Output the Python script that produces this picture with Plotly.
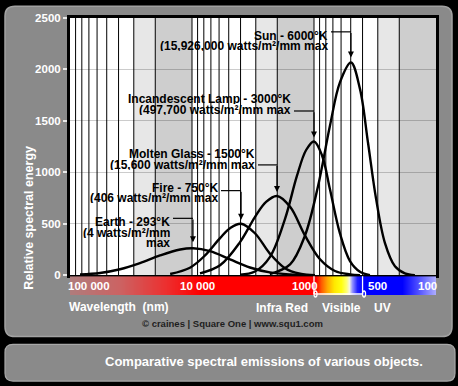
import numpy as np
import plotly.graph_objects as go

W, H = 458, 386
F = "Liberation Sans, Arial, sans-serif"

# ---- data: wavelength (nm) vs relative spectral energy ----
earth_wl  = [82800, 56700, 38900, 26700, 18300, 12500, 9820, 7110, 4880, 3350, 2300, 1570, 1080]
earth_val = [7, 22, 58, 118, 192, 250, 262, 234, 154, 75, 27, 7, 0]
fire_wl   = [15100, 10400, 7820, 5890, 4880, 3960, 3050, 2300, 1730, 1300, 982]
fire_val  = [12, 73, 192, 361, 457, 500, 408, 210, 68, 14, 0]
glass_wl  = [8600, 5890, 4040, 3050, 2470, 2010, 1570, 1190, 893, 673, 507, 420]
glass_val = [18, 97, 322, 565, 713, 770, 665, 390, 155, 41, 8, 0]
lamp_wl   = [4040, 3050, 2300, 1730, 1380, 1160, 1000, 859, 740, 612, 507, 420, 348]
lamp_val  = [5, 36, 176, 545, 965, 1217, 1300, 1164, 835, 404, 138, 34, 0]
sun_wl    = [2300, 1570, 1190, 927, 740, 612, 498, 420, 361, 310, 262, 217, 180, 149]
sun_val   = [11, 105, 380, 865, 1453, 1877, 2067, 1811, 1290, 744, 312, 87, 18, 0]

label_titles = ["Sun - 6000°K", "Incandescent Lamp - 3000°K", "Molten Glass - 1500°K",
                "Fire - 750°K", "Earth - 293°K"]
label_maxes = [["(15,926,000 watts/m²/mm max"], ["(497,700 watts/m²/mm max"],
               ["(15,600 watts/m²/mm max"], ["(406 watts/m²/mm max"],
               ["(4 watts/m²/mm", "max"]]

y_ticks = [0, 500, 1000, 1500, 2000, 2500]
x_tick_labels = ["100 000", "10 000", "1000", "500", "100"]
band_labels = ["Infra Red", "Visible", "UV"]

curves = [(sun_wl, sun_val), (lamp_wl, lamp_val), (glass_wl, glass_val),
          (fire_wl, fire_val), (earth_wl, earth_val)]

# ---- geometry helpers (pixel -> paper) ----
L, T, PW, PH = 70, 15, 366, 280      # plot region incl. colour bar
PLOT_BOTTOM = 275
def px(x): return (x - L) / PW
def py(y): return (T + PH - y) / PH
def px2lam(x): return 10 ** (5 - (x - L) / 122.0)

def rrect(x0, y0, x1, y1, r):
    return (f"M {px(x0+r)},{py(y0)} L {px(x1-r)},{py(y0)} Q {px(x1)},{py(y0)} {px(x1)},{py(y0+r)} "
            f"L {px(x1)},{py(y1-r)} Q {px(x1)},{py(y1)} {px(x1-r)},{py(y1)} "
            f"L {px(x0+r)},{py(y1)} Q {px(x0)},{py(y1)} {px(x0)},{py(y1-r)} "
            f"L {px(x0)},{py(y0+r)} Q {px(x0)},{py(y0)} {px(x0+r)},{py(y0)} Z")

fig = go.Figure()

for wl, val in curves:
    fig.add_trace(go.Scatter(x=wl, y=val, mode="lines", line=dict(color="black", width=2.4, shape="spline", smoothing=1.0),
                             hoverinfo="skip", showlegend=False, cliponaxis=True))

# spectrum colour bar as heatmap
stops = [(70, "#b07c7c"), (120, "#cc6262"), (165, "#ec3030"), (200, "#ff0000"), (316, "#ff0000"),
         (321, "#ff5a00"), (327, "#ffa800"), (334, "#ffe800"), (341, "#ffff10"), (346, "#ffff70"),
         (349, "#f4f4e0"), (352, "#9090ff"), (357, "#2020ff"), (362, "#0000ff"), (402, "#0000ff"),
         (418, "#5050ff"), (436, "#b0b0ff")]
cs = [[(p - 70) / 366.0, c] for p, c in stops]
ncol = 366
fig.add_trace(go.Heatmap(z=[list(range(ncol))], x=np.arange(ncol) + 0.5, y=[0.5], colorscale=cs,
                         zmin=0, zmax=366, showscale=False, xaxis="x2", yaxis="y2", hoverinfo="skip"))

shapes = []
# grey rounded panel and caption box
shapes.append(dict(type="path", path=rrect(5, 3, 452, 337, 10), xref="paper", yref="paper",
                   fillcolor="#8a8a8a", line=dict(color="#a2a2a2", width=1.5), layer="below"))
shapes.append(dict(type="path", path=rrect(5, 345, 455, 382, 8), xref="paper", yref="paper",
                   fillcolor="#8a8a8a", line=dict(color="#a8a8a8", width=1.2), layer="below"))
# white plot area
shapes.append(dict(type="rect", xref="paper", yref="paper", x0=0, x1=1, y0=py(PLOT_BOTTOM), y1=1,
                   fillcolor="white", line=dict(width=0), layer="below"))
# grey bands and log grid lines
for dec in [100, 1000, 10000]:
    shapes.append(dict(type="rect", xref="x", yref="y", x0=dec, x1=2 * dec, y0=0, y1=2500,
                       fillcolor="#cecece", line=dict(width=0), layer="below"))
    shapes.append(dict(type="rect", xref="x", yref="y", x0=2 * dec, x1=3 * dec, y0=0, y1=2500,
                       fillcolor="#e7e7e7", line=dict(width=0), layer="below"))
for dec in [100, 1000, 10000]:
    for k in range(1, 10):
        v = k * dec
        if v <= 100:
            continue
        shapes.append(dict(type="line", xref="x", yref="y", x0=v, x1=v, y0=0, y1=2500,
                           line=dict(color="black", width=1), layer="below"))

# visible bracket below axis (1000 nm to 400 nm)
yb = py(294)
for v in [1000, 400]:
    shapes.append(dict(type="line", xref="x", yref="paper", x0=v, x1=v, y0=py(276), y1=yb,
                       line=dict(color="white", width=1.3)))
    shapes.append(dict(type="circle", xref="x", yref="paper", xsizemode="pixel", ysizemode="pixel",
                       xanchor=v, yanchor=yb, x0=-3, x1=3, y0=-3, y1=3,
                       line=dict(color="white", width=1.3), fillcolor="rgba(0,0,0,0)"))
shapes.append(dict(type="line", xref="x", yref="paper", x0=1000, x1=400, y0=yb, y1=yb,
                   line=dict(color="white", width=1.3)))

annotations = []
def txt(x, y, s, size, color="white", anchor="center", bold=True, angle=0, height=None):
    a = dict(x=px(x), y=py(y), xref="paper", yref="paper", text=s, showarrow=False,
             xanchor=anchor, yanchor="middle", textangle=angle, borderpad=0,
             font=dict(family=F, size=size, color=color, weight="bold" if bold else "normal"))
    if height:
        a["height"] = height
        a["valign"] = "middle"
    annotations.append(a)

# curve labels: (right edge px, first line px, line step, connector y px, arrow gap px)
label_layout = [(329, 33, 10.8, 29, 5), (292, 97, 10.6, 109, 4), (256, 152.7, 10.6, 163.5, 4),
                (219, 186.7, 10.4, 189.5, 4), (171, 221.7, 10.5, 217.5, 6)]
for (wl, val), title, mx, (xr, y1, step, cy, gap) in zip(curves, label_titles, label_maxes, label_layout):
    txt(xr, y1, title, 12, color="black", anchor="right", height=10)
    for i, line in enumerate(mx):
        txt(xr, y1 + step * (i + 1), line, 12, color="black", anchor="right", height=10)
    i_pk = int(np.argmax(val))
    pk_wl, pk_val = wl[i_pk], val[i_pk]
    shapes.append(dict(type="line", xref="x", yref="paper", x0=px2lam(xr + 2), x1=pk_wl,
                       y0=py(cy), y1=py(cy), line=dict(color="black", width=1.2)))
    tip_py = PLOT_BOTTOM - pk_val * 260 / 2500 - gap
    annotations.append(dict(x=np.log10(pk_wl), y=pk_val + gap * 2500 / 260, xref="x", yref="y",
                            text="", showarrow=True, ax=0, ay=-(tip_py - cy), axref="pixel", ayref="pixel",
                            arrowhead=2, arrowsize=1, arrowwidth=1.2, arrowcolor="black", standoff=0))

# axis and band labels
for s, xc in zip(x_tick_labels, [89, 197, 304.5, 377, 427]):
    txt(xc, 286, s, 11.5)
txt(119, 307, "Wavelength&nbsp; (nm)", 12)
for s, xc in zip(band_labels, [282, 341, 382]):
    txt(xc, 308, s, 12)
txt(232.5, 324, "© craines | Square One | www.squ1.com", 9.5, color="#1e1e1e")
txt(29, 217, "Relative spectral energy", 12.5, angle=-90)
txt(424, 362, "Comparative spectral emissions of various objects.", 13, anchor="right")

fig.update_layout(
    width=W, height=H, margin=dict(l=L, r=W - L - PW, t=T, b=H - T - PH, pad=0),
    paper_bgcolor="black", plot_bgcolor="rgba(0,0,0,0)",
    shapes=shapes, annotations=annotations, showlegend=False,
    xaxis=dict(type="log", range=[5, 2], domain=[0, 1], anchor="y", showgrid=False, zeroline=False,
               showticklabels=False, ticks="", showline=True, linecolor="black", linewidth=3, mirror=True),
    yaxis=dict(range=[0, 2500], domain=[20 / 280, 1], anchor="x", tickvals=y_ticks,
               ticktext=[str(v) for v in y_ticks], ticks="outside", ticklen=4, tickwidth=2,
               tickcolor="#e8e8e8", tickfont=dict(family=F, size=11.5, color="white", weight="bold"),
               showgrid=True, gridcolor="rgba(0,0,0,0.2)", gridwidth=1, zeroline=False,
               showline=True, linecolor="black", linewidth=3, mirror=True),
    xaxis2=dict(range=[0, 366], domain=[0, 1], anchor="y2", visible=False),
    yaxis2=dict(range=[0, 1], domain=[0, 19 / 280], anchor="x2", visible=False),
)

fig.write_html("out.html", config={"displayModeBar": False},
               post_script="document.body.style.margin='0';document.body.style.background='black';")
